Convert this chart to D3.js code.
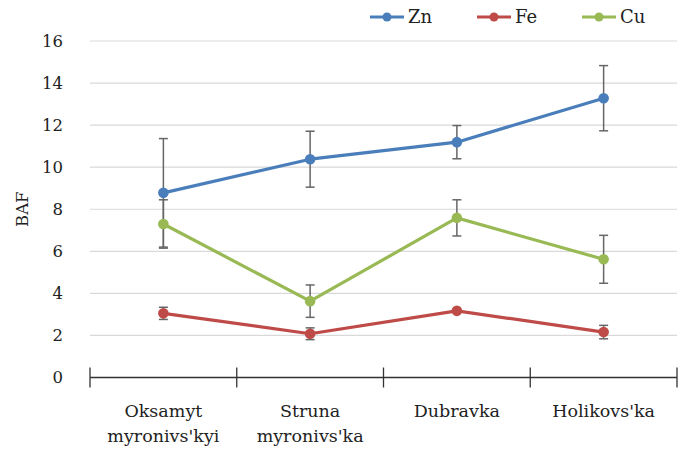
<!DOCTYPE html>
<html><head><meta charset="utf-8">
<script src="https://cdn.jsdelivr.net/npm/d3@7"></script>
<style>body{margin:0;background:#fff}svg{display:block}</style>
</head><body><svg id="c" width="688" height="454"></svg>
<script>
const categories = [["Oksamyt","myronivs'kyi"],["Struna","myronivs'ka"],["Dubravka"],["Holikovs'ka"]];
const seriesNames = ["Zn","Fe","Cu"];
const seriesColors = ["#4a7ebb","#be4b48","#98b954"];
const znValues = [8.78, 10.38, 11.19, 13.28];
const znErrors = [2.58, 1.33, 0.79, 1.55];
const feValues = [3.05, 2.08, 3.17, 2.16];
const feErrors = [0.29, 0.28, 0.05, 0.32];
const cuValues = [7.30, 3.63, 7.59, 5.62];
const cuErrors = [1.15, 0.77, 0.86, 1.14];
const yTicks = [0,2,4,6,8,10,12,14,16];

const series = [
  {name: seriesNames[0], color: seriesColors[0], values: znValues, errors: znErrors},
  {name: seriesNames[1], color: seriesColors[1], values: feValues, errors: feErrors},
  {name: seriesNames[2], color: seriesColors[2], values: cuValues, errors: cuErrors}
];

const FONT = "'DejaVu Serif', 'Liberation Serif', serif";
const svg = d3.select("#c").attr("font-family", FONT);
const pLeft = 90, pRight = 677, pTop = 41, pBottom = 377.5;
const x = d3.scaleBand().domain(d3.range(categories.length)).range([pLeft, pRight]);
const y = d3.scaleLinear().domain([0,16]).range([pBottom, pTop]);

// gridlines
svg.append("g").selectAll("line").data(yTicks.filter(d=>d>0)).join("line")
  .attr("x1", pLeft).attr("x2", pRight).attr("y1", d=>y(d)).attr("y2", d=>y(d))
  .attr("stroke", "#d9d9d9").attr("stroke-width", 1.2);

// y tick labels
svg.append("g").selectAll("text").data(yTicks).join("text")
  .attr("x", 63).attr("y", d=>y(d)).attr("dy","0.35em").attr("text-anchor","end")
  .attr("font-size", 16.5).attr("fill","#222").text(d=>d);

// y label
svg.append("text").attr("transform", `translate(28,${(pTop+pBottom)/2}) rotate(-90)`)
  .attr("text-anchor","middle").attr("font-size",16.5).attr("fill","#222").text("BAF");

// x axis
const xa = svg.append("g");
xa.append("line").attr("x1", pLeft).attr("x2", pRight).attr("y1", pBottom).attr("y2", pBottom)
  .attr("stroke","#333").attr("stroke-width",1.3);
const bounds = d3.range(categories.length).map(i=>x(i)).concat([pRight]);
xa.selectAll("line.t").data(bounds).join("line").attr("class","t")
  .attr("x1", d=>d).attr("x2", d=>d).attr("y1", pBottom-10).attr("y2", pBottom+10)
  .attr("stroke","#333").attr("stroke-width",1.3);
categories.forEach((lines,i)=>{
  const t = xa.append("text").attr("x", x(i)+x.bandwidth()/2).attr("y", 417)
    .attr("text-anchor","middle").attr("font-size",17.5).attr("fill","#222");
  lines.forEach((l,j)=>t.append("tspan").attr("x", x(i)+x.bandwidth()/2).attr("dy", j===0?0:25).text(l));
});

const cx = i => x(i) + x.bandwidth()/2;
const line = d3.line().x((d,i)=>cx(i)).y(d=>y(d));

// error bars
series.forEach(s=>{
  const g = svg.append("g");
  s.values.forEach((v,i)=>{
    const e = s.errors[i];
    if (e < 0.08) return;
    g.append("line").attr("x1",cx(i)).attr("x2",cx(i)).attr("y1",y(v+e)).attr("y2",y(v-e))
      .attr("stroke","#666").attr("stroke-width",1.5);
    [v+e, v-e].forEach(w=>g.append("line").attr("x1",cx(i)-4.5).attr("x2",cx(i)+4.5)
      .attr("y1",y(w)).attr("y2",y(w)).attr("stroke","#666").attr("stroke-width",1.5));
  });
});

// lines and markers
series.forEach(s=>{
  svg.append("path").datum(s.values).attr("d", line).attr("fill","none")
    .attr("stroke", s.color).attr("stroke-width", 3.2).attr("stroke-linejoin","round");
  svg.append("g").selectAll("circle").data(s.values).join("circle")
    .attr("cx",(d,i)=>cx(i)).attr("cy",d=>y(d)).attr("r",5.3).attr("fill",s.color);
});

// legend
const legX = [370, 477, 582];
series.forEach((s,i)=>{
  const g = svg.append("g").attr("transform",`translate(${legX[i]},17)`);
  g.append("line").attr("x1",0).attr("x2",34).attr("stroke",s.color).attr("stroke-width",3.2);
  g.append("circle").attr("cx",17).attr("r",4.5).attr("fill",s.color);
  g.append("text").attr("x",38).attr("dy","0.35em").attr("font-size",18).attr("fill","#222").text(s.name);
});
</script></body></html>
